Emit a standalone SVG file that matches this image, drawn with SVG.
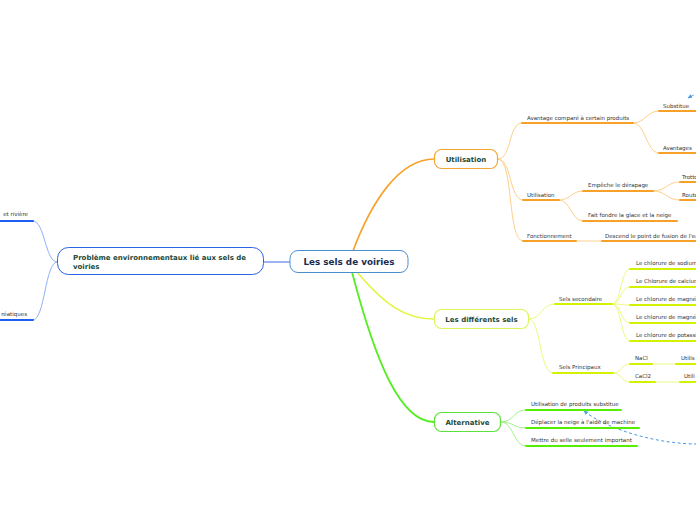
<svg xmlns="http://www.w3.org/2000/svg" width="696" height="520" viewBox="0 0 696 520">
<defs>
<style>
.lbl{font-family:"DejaVu Sans",Verdana,sans-serif;font-size:5.5px;fill:#333}
.nt{font-family:"DejaVu Sans",Verdana,sans-serif;font-weight:bold;font-size:7px;fill:#1d4a3a}
.c{fill:none;stroke-linecap:round}
.o{stroke:#f7a128;stroke-width:2}
.oc{stroke:#fdd08c;stroke-width:1}
.y{stroke:#d4f200;stroke-width:2}
.yc{stroke:#ecfa80;stroke-width:1}
.g{stroke:#55ee00;stroke-width:2}
.gc{stroke:#a4f08e;stroke-width:1}
.b{stroke:#1f5ff0;stroke-width:2}
.bc{stroke:#90b0f8;stroke-width:1}
.rel{fill:none;stroke:#4a9ae8;stroke-width:1;stroke-dasharray:3 2.5}
</style>
<marker id="ah" viewBox="0 0 10 10" refX="8" refY="5" markerWidth="5" markerHeight="5" orient="auto">
<path d="M0,1 L9,5 L0,9 Z" fill="#4a9ae8"/>
</marker>
</defs>
<rect width="696" height="520" fill="#fff"/>
<g id="connectors">
<path class="c" d="M264,262 L290,262" stroke="#3a6ae0" stroke-width="1"/>
<path class="c bc" d="M57,262 C45,262 45,221 33,221"/>
<path class="c bc" d="M57,262 C45,262 45,320 33,320"/>
<path class="c" d="M353,251 C372,200 400,159 434,159" stroke="#f7a128" stroke-width="1.6"/>
<path class="c" d="M357,272 C385,305 405,319 434,319" stroke="#e2f53a" stroke-width="1.5"/>
<path class="c" d="M352,272 C375,360 400,422 434,422" stroke="#55ee22" stroke-width="1.8"/>
<path class="c oc" d="M498,159 C512,159 508,123 522,123"/>
<path class="c oc" d="M498,159 C512,159 509,200 523,200"/>
<path class="c oc" d="M498,159 C514,159 507,241 523,241"/>
<path class="c oc" d="M633,123 C646,123 646,111 659,111"/>
<path class="c oc" d="M633,123 C646,123 646,153 659,153"/>
<path class="c oc" d="M559,200 C571,200 571,191 583,191"/>
<path class="c oc" d="M559,200 C571,200 571,221 583,221"/>
<path class="c oc" d="M653,191 C667,191 666,182 680,182"/>
<path class="c oc" d="M653,191 C667,191 666,200 680,200"/>
<path class="c oc" d="M576,241 L602,241"/>
<path class="c yc" d="M529,319 C542,319 541,304 555,304"/>
<path class="c yc" d="M529,319 C541,319 539,373 553,373"/>
<path class="c yc" d="M612,304 C622,304 620,269 630,269"/>
<path class="c yc" d="M612,304 C622,304 620,287 630,287"/>
<path class="c yc" d="M612,304 C622,304 620,305 630,305"/>
<path class="c yc" d="M612,304 C622,304 620,323 630,323"/>
<path class="c yc" d="M612,304 C622,304 620,341 630,341"/>
<path class="c yc" d="M613,373 C622,373 621,364 630,364"/>
<path class="c yc" d="M613,373 C622,373 621,382 630,382"/>
<path class="c yc" d="M652,364 L676,364"/>
<path class="c yc" d="M655,382 L680,382"/>
<path class="c gc" d="M501,422 C514,422 513,410 526,410"/>
<path class="c gc" d="M501,422 C514,422 513,428 526,428"/>
<path class="c gc" d="M501,422 C514,422 513,446 526,446"/>
<path class="rel" d="M697,444 C660,444 610,431 584,411" marker-end="url(#ah)"/>
<path class="rel" d="M699,93 Q693,95 688,98" marker-end="url(#ah)"/>
</g>
<g id="n-center">
<rect x="290" y="250.5" width="118" height="22" rx="8" fill="#fff" stroke="#4a90d0" stroke-width="1"/>
<text x="349" y="265.3" text-anchor="middle" font-family="DejaVu Sans, Verdana, sans-serif" font-weight="bold" font-size="8.8" fill="#1b2b50">Les sels de voiries</text>
</g>
<g id="n-probleme">
<rect x="57.5" y="247.5" width="206" height="27" rx="11" fill="#fff" stroke="#2a62e8" stroke-width="1"/>
<text class="nt" x="73" y="259.5">Problème environnementaux lié aux sels de</text>
<text class="nt" x="73" y="268.5">voiries</text>
</g>
<g id="n-riviere">
<text class="lbl" x="28" y="216" text-anchor="end">et rivière</text>
<path class="c b" d="M-2,221 L33,221"/>
</g>
<g id="n-phreatiques">
<text class="lbl" x="27" y="316" text-anchor="end">réatiques</text>
<path class="c b" d="M-2,320 L33,320"/>
</g>
<g id="n-utilisation">
<rect x="434.5" y="149.5" width="63" height="19" rx="7" fill="#fff" stroke="#f5a733" stroke-width="1.2"/>
<text class="nt" x="466" y="161.5" text-anchor="middle">Utilisation</text>
</g>
<g id="n-avantage">
<text class="lbl" x="527" y="120">Avantage comparé à certain produits</text>
<path class="c o" d="M522,123 L633,123"/>
</g>
<g id="n-substitue">
<text class="lbl" x="663" y="107.5">Substitue</text>
<path class="c o" d="M659,111 L698,111"/>
</g>
<g id="n-avantages">
<text class="lbl" x="663" y="149.5">Avantages</text>
<path class="c o" d="M659,153 L698,153"/>
</g>
<g id="n-util2">
<text class="lbl" x="527" y="196.5">Utilisation</text>
<path class="c o" d="M523,200 L559,200"/>
</g>
<g id="n-empeche">
<text class="lbl" x="588" y="187">Empêche le dérapage</text>
<path class="c o" d="M583,191 L653,191"/>
</g>
<g id="n-trottoir">
<text class="lbl" x="682" y="178.5">Trottoir</text>
<path class="c o" d="M680,182 L698,182"/>
</g>
<g id="n-route">
<text class="lbl" x="682" y="196.5">Route</text>
<path class="c o" d="M680,200 L698,200"/>
</g>
<g id="n-fondre">
<text class="lbl" x="588" y="216.5">Fait fondre la glace et la neige</text>
<path class="c o" d="M583,221 L677,221"/>
</g>
<g id="n-fonctionnement">
<text class="lbl" x="527" y="237.5">Fonctionnement</text>
<path class="c o" d="M523,241 L576,241"/>
</g>
<g id="n-descend">
<text class="lbl" x="605" y="237.5">Descend le point de fusion de l'eau</text>
<path class="c o" d="M602,241 L698,241"/>
</g>
<g id="n-sels">
<rect x="434.5" y="309.5" width="94" height="19" rx="7" fill="#fff" stroke="#ddf55d" stroke-width="1.2"/>
<text class="nt" x="481.5" y="321.5" text-anchor="middle">Les différents sels</text>
</g>
<g id="n-secondaire">
<text class="lbl" x="559" y="301">Sels secondaire</text>
<path class="c y" d="M555,304 L612,304"/>
</g>
<g id="n-sodium">
<text class="lbl" x="636" y="265">Le chlorure de sodium</text>
<path class="c y" d="M630,269 L698,269"/>
</g>
<g id="n-calcium">
<text class="lbl" x="636" y="283">Le Chlorure de calcium</text>
<path class="c y" d="M630,287 L698,287"/>
</g>
<g id="n-magnesium1">
<text class="lbl" x="636" y="301">Le chlorure de magnésium</text>
<path class="c y" d="M630,305 L698,305"/>
</g>
<g id="n-magnesium2">
<text class="lbl" x="636" y="319">Le chlorure de magnésium</text>
<path class="c y" d="M630,323 L698,323"/>
</g>
<g id="n-potassium">
<text class="lbl" x="636" y="337">Le chlorure de potassium</text>
<path class="c y" d="M630,341 L698,341"/>
</g>
<g id="n-principaux">
<text class="lbl" x="559" y="369">Sels Principaux</text>
<path class="c y" d="M553,373 L613,373"/>
</g>
<g id="n-nacl">
<text class="lbl" x="635" y="360">NaCl</text>
<path class="c y" d="M630,364 L652,364"/>
</g>
<g id="n-nacl-util">
<text class="lbl" x="681" y="360">Utilis</text>
<path class="c y" d="M676,364 L698,364"/>
</g>
<g id="n-cacl2">
<text class="lbl" x="635" y="378">CaCl2</text>
<path class="c y" d="M630,382 L655,382"/>
</g>
<g id="n-cacl2-util">
<text class="lbl" x="684" y="378">Utili</text>
<path class="c y" d="M680,382 L698,382"/>
</g>
<g id="n-alternative">
<rect x="434.5" y="412.5" width="66" height="19" rx="7" fill="#fff" stroke="#5ce03a" stroke-width="1.2"/>
<text class="nt" x="467.5" y="424.5" text-anchor="middle">Alternative</text>
</g>
<g id="n-subst-prod">
<text class="lbl" x="531" y="406">Utilisation de produits substitue</text>
<path class="c g" d="M526,410 L621,410"/>
</g>
<g id="n-deplacer">
<text class="lbl" x="531" y="424">Déplacer la neige à l'aide de machine</text>
<path class="c g" d="M526,428 L639,428"/>
</g>
<g id="n-mettre">
<text class="lbl" x="531" y="442">Mettre du selle seulement important</text>
<path class="c g" d="M526,446 L637,446"/>
</g>
</svg>
